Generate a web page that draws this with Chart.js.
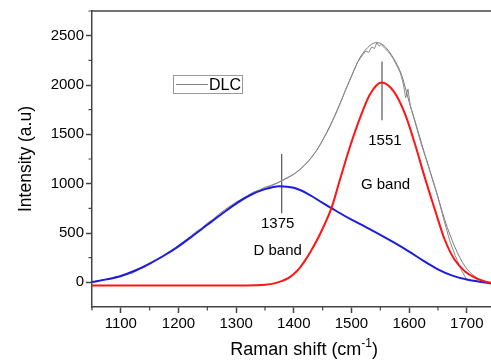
<!DOCTYPE html>
<html>
<head>
<meta charset="utf-8">
<script src="https://cdn.jsdelivr.net/npm/chart.js@4.4.0/dist/chart.umd.min.js"></script>
<style>
  body { margin: 0; background: #fff; }
  canvas { display: block; }
</style>
</head>
<body>
<canvas id="ramanChart" width="491" height="363"></canvas>
<script>
// measured DLC spectrum (noisy gray trace)
const dlcShift = [1050, 1060, 1070, 1080, 1090, 1100, 1110, 1120, 1130, 1140, 1150, 1160, 1170, 1180, 1190,
  1200, 1210, 1220, 1230, 1240, 1250, 1260, 1270, 1280, 1290, 1300, 1310, 1320, 1330, 1340, 1350, 1360, 1370,
  1380, 1390, 1400, 1410, 1420, 1430, 1440, 1450, 1460, 1470, 1480, 1490, 1500, 1510, 1520, 1525, 1530, 1535,
  1540, 1544, 1548, 1552, 1558, 1565, 1572, 1580, 1585, 1590, 1594, 1598, 1602, 1610, 1620, 1630, 1640, 1650,
  1660, 1670, 1680, 1690, 1700];
const dlcIntensity = [5, 12, 28, 32, 52, 58, 80, 92, 125, 150, 185, 222, 248, 295, 330,
  375, 418, 462, 512, 548, 600, 640, 690, 735, 775, 815, 845, 880, 915, 935, 965, 982, 1005,
  1030, 1060, 1095, 1140, 1195, 1262, 1340, 1440, 1545, 1670, 1805, 1955, 2085, 2225, 2310, 2345, 2330, 2385,
  2370, 2428, 2395, 2410, 2370, 2330, 2270, 2180, 2120, 2010, 1870, 1960, 1790, 1630, 1420, 1240, 1050, 860,
  640, 430, 270, 130, 25];

// cumulative fit (smooth gray trace)
const fitShift = [1050, 1100, 1150, 1200, 1250, 1300, 1330, 1360, 1382, 1411, 1440, 1463, 1480, 1497, 1515,
  1532, 1544, 1555, 1573, 1587, 1600, 1610, 1627, 1645, 1662, 1679, 1697, 1714, 1731, 1742];
const fitIntensity = [2, 65, 190, 365, 585, 800, 905, 975, 1040, 1145, 1340, 1590, 1810, 2050, 2280,
  2400, 2430, 2406, 2270, 2100, 1830, 1640, 1302, 965, 630, 362, 161, 60, 10, 0];

// D band component (blue)
const dBandShift = [1050, 1075, 1100, 1125, 1150, 1175, 1200, 1225, 1250, 1275, 1300, 1325, 1350, 1375,
  1400, 1425, 1450, 1466, 1475, 1500, 1525, 1550, 1575, 1600, 1625, 1650, 1675, 1700, 1720, 1742];
const dBandIntensity = [2, 30, 65, 120, 190, 272, 365, 472, 583, 693, 798, 885, 945, 975,
  958, 895, 805, 750, 718, 635, 560, 482, 400, 312, 218, 132, 68, 28, 8, -12];

// G band component (red)
const gBandShift = [1050, 1300, 1333, 1350, 1368, 1380, 1391, 1400, 1410, 1420, 1430, 1446, 1466, 1480,
  1497, 1515, 1532, 1552, 1573, 1593, 1610, 1627, 1645, 1662, 1679, 1697, 1714, 1731, 1742];
const gBandIntensity = [-32, -32, -30, -25, -8, 15, 45, 85, 145, 225, 320, 495, 765, 1040,
  1367, 1669, 1904, 2025, 1937, 1705, 1404, 1066, 731, 429, 228, 110, 47, 10, -6];

// peak markers
const peakShift = [1379, 1553];
const peakLabels = ["1375", "1551"];
const bandLabels = ["D band", "G band"];

const xTicks = [1100, 1200, 1300, 1400, 1500, 1600, 1700];
const yTicks = [0, 500, 1000, 1500, 2000, 2500];

const FONT = "'Liberation Sans', Arial, Helvetica, sans-serif";
const AXIS = "#444";

const pts = (xs, ys) => xs.map((x, i) => ({ x: x, y: ys[i] }));

// minor ticks, top frame, x title, legend box and peak labels
const decorations = {
  id: "decorations",
  afterDraw(chart) {
    const { ctx, chartArea: a, scales: { x, y } } = chart;
    ctx.save();
    ctx.strokeStyle = AXIS;
    ctx.lineWidth = 1.5;
    ctx.beginPath();
    ctx.moveTo(a.left, a.top);
    ctx.lineTo(a.right, a.top);
    ctx.stroke();

    // minor ticks halfway between majors
    ctx.lineWidth = 1.2;
    ctx.beginPath();
    for (let v = 1050; v <= x.max; v += 100) {
      const px = x.getPixelForValue(v);
      ctx.moveTo(px, a.bottom);
      ctx.lineTo(px, a.bottom + 3.5);
    }
    for (let v = 250; v <= y.max; v += 500) {
      const py = y.getPixelForValue(v);
      ctx.moveTo(a.left, py);
      ctx.lineTo(a.left - 3.5, py);
    }
    ctx.stroke();

    ctx.fillStyle = "#000";
    ctx.textBaseline = "middle";

    // x axis title with superscript
    const main = "Raman shift (cm", sup = "-1", tail = ")";
    ctx.font = "18px " + FONT;
    const wMain = ctx.measureText(main).width, wTail = ctx.measureText(tail).width;
    ctx.font = "12px " + FONT;
    const wSup = ctx.measureText(sup).width;
    let tx = x.getPixelForValue(1418) - (wMain + wSup + wTail) / 2;
    const ty = 350;
    ctx.textAlign = "left";
    ctx.font = "18px " + FONT;
    ctx.fillText(main, tx, ty);
    tx += wMain;
    ctx.font = "12px " + FONT;
    ctx.fillText(sup, tx, ty - 6);
    tx += wSup;
    ctx.font = "18px " + FONT;
    ctx.fillText(tail, tx, ty);

    // labels next to the peak markers
    ctx.font = "15px " + FONT;
    ctx.textAlign = "center";
    ctx.fillText(peakLabels[0], x.getPixelForValue(1372), y.getPixelForValue(590));
    ctx.fillText(bandLabels[0], x.getPixelForValue(1372), y.getPixelForValue(319));
    ctx.fillText(peakLabels[1], x.getPixelForValue(1558), y.getPixelForValue(1429));
    ctx.fillText(bandLabels[1], x.getPixelForValue(1559), y.getPixelForValue(992));

    // legend
    const lx = a.left + 81, ly = a.top + 64;
    ctx.strokeStyle = "#9a9a9a";
    ctx.lineWidth = 1;
    ctx.strokeRect(lx + 0.5, ly + 0.5, 69, 18);
    ctx.strokeStyle = "#808080";
    ctx.beginPath();
    ctx.moveTo(lx + 3, ly + 9.5);
    ctx.lineTo(lx + 35, ly + 9.5);
    ctx.stroke();
    ctx.font = "16px " + FONT;
    ctx.textAlign = "left";
    ctx.fillText("DLC", lx + 36, ly + 10.5);
    ctx.restore();
  }
};

const ctx = document.getElementById("ramanChart").getContext("2d");

new Chart(ctx, {
  type: "line",
  data: {
    datasets: [
      {
        label: "G band",
        data: pts(gBandShift, gBandIntensity),
        borderColor: "#ff1414",
        borderWidth: 2,
        tension: 0.4,
        cubicInterpolationMode: "monotone",
        order: 0
      },
      {
        label: "D band",
        data: pts(dBandShift, dBandIntensity),
        borderColor: "#1c1ce0",
        borderWidth: 2,
        tension: 0.4,
        cubicInterpolationMode: "monotone",
        order: 1
      },
      {
        label: "DLC",
        data: pts(dlcShift, dlcIntensity),
        borderColor: "#8a8a8a",
        borderWidth: 1,
        tension: 0,
        order: 2
      },
      {
        label: "Fit",
        data: pts(fitShift, fitIntensity),
        borderColor: "#7a7a7a",
        borderWidth: 1,
        tension: 0.4,
        cubicInterpolationMode: "monotone",
        order: 3
      },
      {
        label: "D peak",
        data: [{ x: peakShift[0], y: 700 }, { x: peakShift[0], y: 1300 }],
        borderColor: "#555",
        borderWidth: 1.2,
        order: 4
      },
      {
        label: "G peak",
        data: [{ x: peakShift[1], y: 1642 }, { x: peakShift[1], y: 2238 }],
        borderColor: "#555",
        borderWidth: 1.2,
        order: 4
      }
    ]
  },
  options: {
    responsive: false,
    animation: false,
    devicePixelRatio: 1,
    layout: { padding: { top: 9, right: 0, left: 0, bottom: 0 } },
    elements: { point: { radius: 0 } },
    plugins: {
      legend: { display: false },
      tooltip: { enabled: false }
    },
    scales: {
      x: {
        type: "linear",
        min: 1050,
        max: 1742,
        afterBuildTicks: s => { s.ticks = xTicks.map(v => ({ value: v })); },
        afterFit: s => { s.height = 56; },
        ticks: {
          color: "#000", font: { family: FONT, size: 15 }, padding: 2,
          maxRotation: 0, autoSkip: false, callback: v => String(v)
        },
        grid: { drawOnChartArea: false, tickLength: 6, tickColor: AXIS, tickWidth: 1.5 },
        border: { color: AXIS, width: 1.5 }
      },
      y: {
        type: "linear",
        min: -250,
        max: 2750,
        afterBuildTicks: s => { s.ticks = yTicks.map(v => ({ value: v })); },
        afterFit: s => { s.width = 92; },
        ticks: { color: "#000", font: { family: FONT, size: 15 }, padding: 2, callback: v => String(v) },
        grid: { drawOnChartArea: false, tickLength: 6, tickColor: AXIS, tickWidth: 1.5 },
        border: { color: AXIS, width: 1.5 },
        title: {
          display: true,
          text: "Intensity (a.u)",
          color: "#000",
          font: { family: FONT, size: 17.5 },
          padding: { top: 16, bottom: 0 }
        }
      }
    }
  },
  plugins: [decorations]
});
</script>
</body>
</html>
